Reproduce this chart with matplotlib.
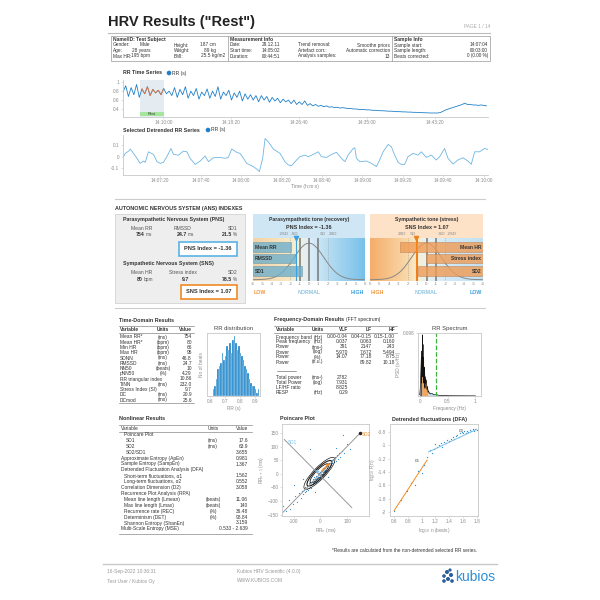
import numpy as np
import matplotlib
matplotlib.use("Agg")
import matplotlib.pyplot as plt
from matplotlib.patches import Rectangle, Ellipse, Circle
from matplotlib.colors import LinearSegmentedColormap

plt.rcParams['font.family'] = ['Liberation Sans', 'DejaVu Sans']

# ---------------- data ----------------
# RR time series, one value every 20 s from 14:05:02
rr_step = 20
rr_values = [0.78, 0.92, 0.68, 0.88, 0.72, 0.95, 0.66, 0.85, 0.74, 0.90,
             0.70, 0.84, 0.76, 0.82, 0.72, 0.86, 0.74, 0.80, 0.70, 0.88,
             0.66, 0.84, 0.72, 0.90, 0.64, 0.80, 0.70, 0.86, 0.62, 0.78,
             0.70, 0.85, 0.64, 0.80, 0.68, 0.90, 0.62, 0.78, 0.70, 0.82,
             0.60, 0.76, 0.66, 0.80, 0.58, 0.74, 0.62, 0.72, 0.60, 0.70,
             0.56, 0.70, 0.60, 0.68, 0.55, 0.66, 0.58, 0.64, 0.54, 0.62,
             0.56, 0.60, 0.52, 0.60, 0.50, 0.56, 0.50, 0.58, 0.48, 0.52,
             0.47, 0.50, 0.46, 0.48, 0.45, 0.47, 0.44, 0.45, 0.43, 0.44,
             0.42, 0.43, 0.42, 0.41, 0.41, 0.40, 0.40, 0.39, 0.39, 0.385,
             0.38, 0.38, 0.37, 0.37, 0.365, 0.36, 0.36, 0.355, 0.35, 0.35,
             0.345, 0.34, 0.34, 0.335, 0.335, 0.33, 0.33, 0.325, 0.325, 0.32,
             0.32, 0.315, 0.315, 0.31, 0.31, 0.31, 0.31, 0.32, 0.35, 0.38,
             0.40, 0.42, 0.44, 0.46, 0.48, 0.50, 0.53, 0.50, 0.50, 0.49,
             0.49, 0.48, 0.49, 0.48, 0.47]
rr_ticks = [298, 798, 1298, 1798, 2298]
rr_ticklabels = ["14:10:00", "14:18:20", "14:26:40", "14:35:00", "14:43:20"]
sel_start, sel_end = 124, 304

# detrended selection (s from 14:07:04, s)
det_t = [-2.1, -1.3, 0.4, 1.2, 2.8, 4.5, 6.1, 7.8, 8.6, 10.2, 12.7, 14.4, 16.0, 17.6, 19.3,
         21.3, 22.6, 25.1, 27.5, 29.2, 30.8, 33.3, 35.8, 38.2, 39.9, 42.3, 45.6, 48.1, 49.7,
         51.4, 53.9, 55.5, 57.2, 58.8, 62.1, 63.7, 65.1, 66.7, 67.9, 69.5, 72.0, 75.3, 77.7,
         79.4, 81.0, 83.5, 85.1, 87.6, 89.3, 91.7, 94.2, 95.8, 98.3, 100.8, 103.2, 105.7,
         107.4, 109.0, 111.5, 112.3, 113.1, 114.8, 118.1, 120.5, 123.0, 124.6, 126.3, 128.8,
         130.4, 132.0, 133.7, 135.3, 137.0, 138.6, 141.1, 143.6, 145.2, 147.7, 150.2, 152.6,
         154.3, 156.7, 158.4, 160.9, 163.3, 165.8, 168.3, 169.9, 171.6, 174.0, 176.5, 178.1]
det_rr = [0.0, 0.029, 0.049, 0.067, 0.029, -0.014, -0.058, -0.038, -0.049, 0.043, 0.020,
          -0.043, -0.058, -0.049, 0.0, 0.072, 0.020, 0.014, 0.049, 0.043, -0.014, -0.067,
          -0.038, 0.006, -0.043, -0.009, -0.006, -0.014, -0.006, 0.067, 0.038, 0.029, -0.014,
          -0.058, -0.087, -0.107, -0.130, -0.014, 0.159, 0.130, 0.067, 0.029, -0.043, -0.072,
          -0.078, -0.029, 0.0, 0.014, 0.0, 0.020, 0.043, 0.0, -0.006, 0.020, 0.038, -0.014,
          -0.043, 0.014, 0.072, 0.078, -0.014, -0.043, -0.038, -0.058, -0.087, -0.029, 0.043,
          0.107, 0.087, 0.014, -0.049, -0.067, -0.067, 0.0, 0.029, 0.014, 0.043, -0.006,
          0.014, -0.029, 0.0, 0.072, -0.014, -0.064, -0.029, -0.009, -0.038, -0.067, 0.043,
          0.043, 0.072, 0.064]
det_ticks = [16, 36, 56, 76, 96, 116, 136, 156, 176]
det_ticklabels = ["14:07:20", "14:07:40", "14:08:00", "14:08:20", "14:08:40",
                  "14:09:00", "14:09:20", "14:09:40", "14:10:00"]

# ANS gauges
pns_bar_names = ["Mean RR", "RMSSD", "SD1"]
pns_bar_vals = [-1.9, -1.55, -0.8]
pns_index = -1.36
sns_bar_names = ["Mean HR", "Stress index", "SD2"]
sns_bar_vals = [2.8, 0.05, 0.9]
sns_index = 1.07

# header info
info_name = [("Gender:", "Male", "Height:", "187 cm"),
             ("Age:", "28 years", "Weight:", "89 kg"),
             ("Max HR:", "195 bpm", "BMI:", "25.5 kg/m2")]
info_meas = [("Date:", "29.12.11", "Trend removal:", "Smoothn priors"),
             ("Start time:", "14:05:02", "Artefact corr.:", "Automatic correction"),
             ("Duration:", "00:44:51", "Analysis samples:", "13")]
info_sample = [("Sample start:", "14:07:04"),
               ("Sample length:", "00:03:00"),
               ("Beats corrected:", "0 (0.00 %)")]

# time domain table
td_vars = ["Mean RR*", "Mean HR*", "Min HR", "Max HR", "SDNN", "RMSSD", "NN50", "pNN50",
           "RR triangular index", "TINN", "Stress Index (SI)", "DC", "DCmod"]
td_units = ["(ms)", "(bpm)", "(bpm)", "(bpm)", "(ms)", "(ms)", "(beats)", "(%)", "",
            "(ms)", "", "(ms)", "(ms)"]
td_vals = ["754", "80", "66", "95", "46.8", "24.7", "10", "4.29", "10.86", "232.0",
           "9.7", "20.9", "25.6"]

# RR distribution histogram
hist_left = [0.62, 0.63, 0.64, 0.65, 0.66, 0.67, 0.68, 0.69, 0.70, 0.71, 0.72, 0.73, 0.74,
             0.75, 0.76, 0.77, 0.78, 0.79, 0.80, 0.81, 0.82, 0.83, 0.84, 0.85, 0.86, 0.87,
             0.88, 0.89, 0.90, 0.91, 0.92]
hist_counts = [2, 3, 5, 8, 9, 10, 13, 11, 12, 15, 14, 16, 13, 17, 18, 16, 14, 15, 13, 12,
               11, 9, 8, 7, 5, 4, 3, 3, 2, 1, 2]

# frequency domain table
fd_rows = [("Frequency band", "(Hz)", "0.00-0.04", "0.04-0.15", "0.15-1.00"),
           ("Peak frequency", "(Hz)", "0.037", "0.063", "0.160"),
           ("Power", "(ms²)", "391", "2147", "243"),
           ("Power", "(log)", "5.970", "7.672", "5.494"),
           ("Power", "(%)", "14.07", "77.18", "8.75"),
           ("Power", "(n.u.)", "", "89.82", "10.18")]
fd_totals = [("Total power", "(ms²)", "2782"),
             ("Total Power", "(log)", "7.931"),
             ("LF/HF ratio", "", "8.825"),
             ("RESP", "(Hz)", "0.29")]

# RR spectrum
spec_f = [0, 0.01, 0.02, 0.03, 0.035, 0.04, 0.045, 0.05, 0.055, 0.06, 0.065, 0.07, 0.075,
          0.08, 0.085, 0.09, 0.095, 0.10, 0.11, 0.12, 0.13, 0.14, 0.15, 0.16, 0.17, 0.18,
          0.20, 0.22, 0.25, 0.30, 0.35, 0.40, 0.50, 0.60, 0.80, 1.00]
spec_psd = [0.002, 0.010, 0.035, 0.060, 0.020, 0.070, 0.030, 0.095, 0.040, 0.080, 0.025,
            0.060, 0.020, 0.045, 0.015, 0.035, 0.012, 0.030, 0.020, 0.025, 0.010, 0.015,
            0.006, 0.008, 0.004, 0.005, 0.003, 0.004, 0.002, 0.002, 0.001, 0.001, 0.0005,
            0.0004, 0.0003, 0.0002]
resp_freq = 0.29

# nonlinear table
nl_vars = ["Poincare Plot", "SD1", "SD2", "SD2/SD1", "Approximate Entropy (ApEn)",
           "Sample Entropy (SampEn)", "Detrended Fluctuation Analysis (DFA)",
           "Short-term fluctuations, α1", "Long-term fluctuations, α2",
           "Correlation Dimension (D2)", "Recurrence Plot Analysis (RPA)",
           "Mean line length (Lmean)", "Max line length (Lmax)", "Recurrence rate (REC)",
           "Determinism (DET)", "Shannon Entropy (ShanEn)", "Multi-Scale Entropy (MSE)"]
nl_indent = [1, 2, 2, 2, 0, 0, 0, 1, 1, 0, 0, 1, 1, 1, 1, 1, 0]
nl_units = ["", "(ms)", "(ms)", "", "", "", "", "", "", "", "", "(beats)", "(beats)",
            "(%)", "(%)", "", ""]
nl_vals = ["", "17.6", "63.9", "3.655", "0.981", "1.367", "", "1.562", "0.552", "3.058",
           "", "11.06", "140", "36.48", "98.84", "3.159", "0.533 - 2.639"]

# Poincare points (ms)
pc_x = [-130, -120, -105, -95, -88, -80, -75, -70, -66, -62, -60, -58, -55, -52, -50, -48,
        -45, -44, -42, -40, -38, -36, -35, -33, -30, -30, -28, -25, -24, -22, -20, -18, -16,
        -15, -12, -10, -10, -8, -6, -5, -3, 0, 0, 2, 4, 5, 8, 10, 10, 12, 15, 16, 18, 20, 22,
        25, 26, 28, 30, 32, 35, 38, 40, 42, 45, 48, 50, 55, 58, 62, 65, 70, 75, 80, 90, 100,
        -39, 84, -65, -20, 30, -100, 60, 110, -140, -115]
pc_y = [-138, -95, -112, -80, -102, -70, -88, -62, -75, -58, -68, -50, -62, -45, -56, -60,
        -40, -52, -35, -47, -30, -42, -52, -25, -38, -20, -32, -30, -12, -28, -18, -30, -8,
        -20, -14, -2, -22, -10, 4, -12, -5, 8, -10, -2, 12, 0, 6, 20, -2, 10, 22, 5, 15, 28,
        12, 20, 35, 18, 30, 40, 25, 45, 32, 50, 38, 55, 42, 60, 48, 70, 55, 78, 62, 85, 75,
        110, 90, 142, -20, -65, -10, -40, 95, 90, -120, -130]
pc_center = (-4, 2)
sd1, sd2 = 17.6, 63.9

# DFA points
dfa_x = [0.60, 0.70, 0.78, 0.85, 0.90, 0.95, 1.00, 1.04, 1.08, 1.12, 1.15, 1.18, 1.20,
         1.23, 1.25, 1.28, 1.30, 1.32, 1.35, 1.37, 1.40, 1.42, 1.45, 1.47, 1.50, 1.52, 1.54,
         1.56, 1.58, 1.60, 1.62, 1.64, 1.66, 1.68, 1.70, 1.72, 1.74, 1.76, 1.78, 1.80]
dfa_y = [-1.98, -1.82, -1.68, -1.57, -1.60, -1.38, -1.42, -1.30, -1.18, -1.07, -1.12,
         -1.05, -0.98, -1.02, -1.00, -0.96, -1.03, -0.95, -0.97, -0.92, -0.94, -0.90, -0.88,
         -0.90, -0.86, -0.84, -0.87, -0.82, -0.80, -0.82, -0.79, -0.81, -0.78, -0.80, -0.77,
         -0.79, -0.76, -0.78, -0.75, -0.77]
dfa_fit1_x, dfa_fit1_y = [0.60, 1.08], [-1.98, -1.22]
dfa_fit2_x, dfa_fit2_y = [1.10, 1.80], [-1.10, -0.76]

# ---------------- page helpers ----------------
W = 600.0
fig = plt.figure(figsize=(6, 6), dpi=100)
fig.patch.set_facecolor('white')
GRAY = '#8c8c8c'
BLUE = '#1f80c8'


def fx(x):
    return x / W


def fy(y):
    return 1 - y / W


def txt(x, y, s, size=3.6, color='#333333', **kw):
    fig.text(fx(x), fy(y), s, fontsize=size, color=color, va='center', **kw)


def hline(x0, x1, y, color='#b0b0b0', lw=0.5):
    fig.add_artist(plt.Line2D([fx(x0), fx(x1)], [fy(y), fy(y)], color=color, lw=lw))


def vline(x, y0, y1, color='#b0b0b0', lw=0.5):
    fig.add_artist(plt.Line2D([fx(x), fx(x)], [fy(y0), fy(y1)], color=color, lw=lw))


def rect(x0, y0, x1, y1, **kw):
    fig.add_artist(Rectangle((fx(x0), fy(y1)), (x1 - x0) / W, (y1 - y0) / W,
                             transform=fig.transFigure, **kw))


def box_axes(x0, y0, x1, y1):
    a = fig.add_axes([fx(x0), fy(y1), (x1 - x0) / W, (y1 - y0) / W])
    a.patch.set_alpha(0)
    return a


def style(ax, size=3.4, frame='lb'):
    for k, s in ax.spines.items():
        s.set_color('#c8c8c8')
        s.set_linewidth(0.6)
        if frame == 'lb' and k in ('top', 'right'):
            s.set_visible(False)
    ax.tick_params(labelsize=size, colors='#c8c8c8', labelcolor=GRAY, length=1.5,
                   width=0.4, pad=1)


# ---------------- title + header ----------------
txt(108, 22, 'HRV Results ("Rest")', size=10.5, weight='bold', color='#222222')
txt(490, 27, "PAGE 1 / 14", size=3.4, color='#aaaaaa', ha='right')
hline(108, 490, 32.5, color='#bbbbbb', lw=0.8)

rect(111, 35.5, 490, 61, facecolor='none', edgecolor='#999999', lw=0.5)
vline(228, 35.5, 61, color='#999999')
vline(392, 35.5, 61, color='#999999')
row_y = [45, 50.5, 56]
txt(113, 39.5, "Name/ID: Test Subject", size=3.6, weight='bold')
txt(230, 39.5, "Measurement Info", size=3.6, weight='bold')
txt(394, 39.5, "Sample Info", size=3.6, weight='bold')
for y, (a, b, c, d) in zip(row_y, info_name):
    txt(113, y, a, size=3.4)
    txt(150, y, b, size=3.4, ha='right')
    txt(174, y, c, size=3.4)
    txt(225 if d.endswith('m2') else 216, y, d, size=3.4, ha='right')
for y, (a, b, c, d) in zip(row_y, info_meas):
    txt(230, y, a, size=3.4)
    txt(280, y, b, size=3.4, ha='right')
    txt(298, y, c, size=3.4)
    txt(390, y, d, size=3.4, ha='right')
for y, (a, b) in zip(row_y, info_sample):
    txt(394, y, a, size=3.4)
    txt(488, y, b, size=3.4, ha='right')

# ---------------- RR time series ----------------
txt(123, 73, "RR Time Series", size=3.8, weight='bold')
fig.add_artist(Circle((fx(169), fy(73)), 1.6 / W, color=BLUE, transform=fig.transFigure))
txt(172, 73, "RR (s)", size=3.6)
ax = box_axes(123, 80, 488, 117)
rr_t = np.arange(len(rr_values)) * rr_step
ax.axvspan(sel_start, sel_end, color='#e4ecf2', lw=0, zorder=0)
ax.add_patch(Rectangle((sel_start, 0.235), sel_end - sel_start, 0.09, color='#a6e59e', lw=0))
ax.text((sel_start + sel_end) / 2, 0.28, "Rest", fontsize=2.8, ha='center', va='center',
        color='#333333')
ax.plot(rr_t, rr_values, color=BLUE, lw=0.6)
sel = (rr_t >= sel_start) & (rr_t <= sel_end)
ax.plot(rr_t[sel], np.array(rr_values)[sel], color='#e8743b', lw=0.6)
ax.set_xlim(0, 2691)
ax.set_ylim(0.22, 1.05)
ax.set_xticks(rr_ticks, rr_ticklabels)
ax.set_yticks([0.4, 0.6, 0.8, 1.0], ["0.4", "0.6", "0.8", "1"])
style(ax)

# ---------------- detrended selection ----------------
txt(123, 130, "Selected Detrended RR Series", size=3.8, weight='bold')
fig.add_artist(Circle((fx(208), fy(130)), 1.6 / W, color=BLUE, transform=fig.transFigure))
txt(211, 130, "RR (s)", size=3.6)
ax = box_axes(123, 135, 488, 175)
ax.plot(det_t, det_rr, color='#6db5e3', lw=0.6)
ax.set_xlim(-2.4, 178.2)
ax.set_ylim(-0.16, 0.19)
ax.set_xticks(det_ticks, det_ticklabels)
ax.set_yticks([-0.1, 0, 0.1], ["-0.1", "0", "0.1"])
style(ax)
txt(305, 186, "Time (h:m:s)", size=3.6, color=GRAY, ha='center')

# ---------------- ANS ----------------
hline(115, 485, 199, color='#cccccc', lw=0.8)
txt(115, 208.5, "AUTONOMIC NERVOUS SYSTEM (ANS) INDEXES", size=3.9, weight='bold')
rect(115, 214, 245, 303, facecolor='#eeeeee', edgecolor='#cccccc', lw=0.5, zorder=-1)

txt(123, 220, "Parasympathetic Nervous System (PNS)", size=3.8, weight='bold')
for x, s, ha in [(142, "Mean RR", 'center'), (183, "RMSSD", 'center'), (237, "SD1", 'right')]:
    txt(x, 228.5, s, size=3.6, color='#555555', ha=ha)
for x, num, unit in [(145, "754", "ms"), (187, "24.7", "ms"), (232, "21.5", "%")]:
    txt(x, 234.5, num, size=3.8, weight='bold', ha='right')
    txt(x + 1, 234.5, unit, size=3.4, color='#555555')
rect(179, 242, 237, 256, facecolor='white', edgecolor='#5ab4e5', lw=1.2)
txt(208, 249, "PNS Index = -1.36", size=4.1, weight='bold', ha='center')

txt(123, 264, "Sympathetic Nervous System (SNS)", size=3.8, weight='bold')
for x, s, ha in [(142, "Mean HR", 'center'), (183, "Stress index", 'center'), (237, "SD2", 'right')]:
    txt(x, 272, s, size=3.6, color='#555555', ha=ha)
txt(143, 279, "80", size=3.8, weight='bold', ha='right')
txt(144, 279, "bpm", size=3.4, color='#555555')
txt(186, 279, "9.7", size=3.8, weight='bold', ha='center')
txt(232, 279, "78.5", size=3.8, weight='bold', ha='right')
txt(233, 279, "%", size=3.4, color='#555555')
rect(181, 284.5, 237, 298.5, facecolor='white', edgecolor='#f08a24', lw=1.2)
txt(209, 291.5, "SNS Index = 1.07", size=4.1, weight='bold', ha='center')

gauges = [
    dict(x0=253, x1=365, bg='#cfe6f4', rev=False,
         stops=[(-6, '#f5d2a6'), (-2.2, '#f8e8c4'), (-1.2, '#f4f0d8'), (0, '#dfeef8'),
                (2, '#b8ddf2'), (6, '#78c1ea')],
         names=pns_bar_names, vals=pns_bar_vals, bar='#6fb0cc', edge='#5d8fa3',
         index=pns_index, mcol='#3d9fdc',
         t1="Parasympathetic tone (recovery)", t2="PNS Index = -1.36",
         words=[("LOW", '#f0963c', 'left'), ("NORMAL", '#8fc4e0', 'center'),
                ("HIGH", '#3a9edb', 'right')]),
    dict(x0=370, x1=483, bg='#fde2c8', rev=True,
         stops=[(-6, '#c0e1f4'), (-2, '#d3eaf6'), (0, '#e8f1f2'), (1, '#f8edcc'),
                (2, '#fad9aa'), (6, '#f4ad6a')],
         names=sns_bar_names, vals=sns_bar_vals, bar='#f09c55', edge='#b7794a',
         index=sns_index, mcol='#f0821e',
         t1="Sympathetic tone (stress)", t2="SNS Index = 1.07",
         words=[("HIGH", '#f0963c', 'left'), ("NORMAL", '#8fc4e0', 'center'),
                ("LOW", '#3a9edb', 'right')]),
]
bar_rows = [(0.79, 0.23), (0.52, 0.21), (0.23, 0.23)]
sd_labels = [("-2SD", -2), ("-SD", -1), ("SD", 1), ("2SD", 2)]
for g in gauges:
    x0, x1 = g['x0'], g['x1']
    rev = g['rev']
    rect(x0, 214, x1, 281, facecolor=g['bg'], edgecolor='none', zorder=-1)
    xc = (x0 + x1) / 2
    txt(xc, 219.5, g['t1'], size=3.7, weight='bold', ha='center')
    txt(xc, 227, g['t2'], size=3.9, weight='bold', ha='center')
    ax = box_axes(x0, 238, x1, 281)
    cmap = LinearSegmentedColormap.from_list(
        'g', [((v + 6) / 12, c) for v, c in g['stops']])
    grad = np.linspace(0, 1, 256).reshape(1, -1)
    ax.imshow(grad, extent=[-6, 6, 0, 1], aspect='auto', cmap=cmap, zorder=0)
    xs = np.linspace(-6, 6, 200)
    ax.plot(xs, 0.03 + 0.85 * np.exp(-xs ** 2 / (2 * 1.6 ** 2)), color='#888888', lw=0.7, zorder=2)
    for v in (-1, 0, 1):
        ax.axvline(v, color='#777777', lw=1.1, zorder=2)
    for v in (-2, 2):
        ax.axvline(v, color='#999999', lw=0.5, ls=':', zorder=2)
    # bars start at -6 (left edge for PNS, right edge for the reversed SNS axis)
    for (yc, h), name, val in zip(bar_rows, g['names'], g['vals']):
        ax.barh(yc, val + 6, left=-6, height=h, color=g['bar'], alpha=0.8,
                edgecolor=g['edge'], lw=0.4, zorder=3)
        ax.text(-5.8, yc, name, fontsize=3.6, weight='bold', color='#333333',
                va='center', ha='right' if rev else 'left', zorder=4)
    ax.axvline(g['index'], color=g['mcol'], lw=0.8, zorder=4)
    ax.plot([g['index']], [1.0], marker='v', color=g['mcol'], ms=3, zorder=5, clip_on=False)
    ax.set_ylim(0, 1)
    ax.set_xlim((6, -6) if rev else (-6, 6))
    ax.set_xticks(range(-6, 7), [str(v) for v in range(-6, 7)])
    ax.set_yticks([])
    for s in ax.spines.values():
        s.set_visible(False)
    ax.tick_params(labelsize=3.2, labelcolor=GRAY, length=0, pad=1)
    for lab, v in sd_labels:
        ha = 'right' if (v < 0) != rev else 'left'
        ax.text(v + np.sign(v) * 0.15, 1.04, lab, fontsize=3.2, color='#888888',
                ha=ha, va='bottom')
    for (w, c, ha), x in zip(g['words'], [x0 + 1, xc, x1 - 1]):
        txt(x, 292.5, w, size=3.8, weight='bold', color=c, ha=ha)

# ---------------- time domain ----------------
hline(115, 485, 308, color='#cccccc', lw=0.8)
txt(119, 320, "Time-Domain Results", size=3.9, weight='bold')
hline(119, 194, 326, color='#888888')
hline(119, 194, 332.5, color='#888888')
hline(119, 194, 403, color='#888888')
txt(120, 329.3, "Variable", size=3.5, weight='bold')
txt(163, 329.3, "Units", size=3.5, weight='bold', ha='center')
txt(192, 329.3, "Value", size=3.5, weight='bold', ha='right')
for i, (v, u, val) in enumerate(zip(td_vars, td_units, td_vals)):
    y = 337 + i * 5.25
    txt(120, y, v, size=3.5)
    txt(163, y, u, size=3.5, ha='center')
    txt(192, y, val, size=3.5, ha='right')

ax = box_axes(207, 333, 260, 396)
ax.bar(hist_left, hist_counts, width=0.01, align='edge', color='#1a84c9',
       edgecolor='white', lw=0.2)
ax.set_xlim(0.58, 0.935)
ax.set_ylim(0, 19)
ax.set_xticks([0.6, 0.7, 0.8, 0.9], ["0.6", "0.7", "0.8", "0.9"])
ax.set_yticks([])
style(ax, frame='all')
ax.set_title("RR distribution", fontsize=4.2, color='#444444', pad=2)
ax.set_ylabel("No of beats", fontsize=3.4, color=GRAY, labelpad=2)
ax.set_xlabel("RR (s)", fontsize=3.4, color=GRAY, labelpad=1)

# ---------------- frequency domain ----------------
txt(274, 320, "Frequency-Domain Results", size=3.9, weight='bold')
txt(346, 319.5, "(FFT spectrum)", size=3.6)
hline(274, 397, 326, color='#888888')
hline(274, 397, 332.5, color='#888888')
txt(276, 329.3, "Variable", size=3.5, weight='bold')
txt(318, 329.3, "Units", size=3.5, weight='bold', ha='center')
for x, s in [(348, "VLF"), (372, "LF"), (395, "HF")]:
    txt(x, 329.3, s, size=3.5, weight='bold', ha='right')
for i, (v, u, a, b, c) in enumerate(fd_rows):
    y = 337 + i * 5
    txt(276, y, v, size=3.5)
    txt(318, y, u, size=3.5, ha='center')
    txt(348, y, a, size=3.5, ha='right')
    txt(372, y, b, size=3.5, ha='right')
    txt(395, y, c, size=3.5, ha='right')
hline(277, 296, 371, color='#555555', lw=0.4)
for i, (v, u, a) in enumerate(fd_totals):
    y = 377.5 + i * 5
    txt(276, y, v, size=3.5)
    txt(318, y, u, size=3.5, ha='center')
    txt(348, y, a, size=3.5, ha='right')

ax = box_axes(418, 333, 481, 396)
f = np.array(spec_f)
p = np.array(spec_psd)
ax.fill_between(f, p, where=f <= 0.04, color='#5a5a5a', lw=0, interpolate=True)
ax.fill_between(f, p, where=(f >= 0.04) & (f <= 0.15), color='#f2a65a', lw=0, interpolate=True)
ax.fill_between(f, p, where=f >= 0.15, color='#bcdcf0', lw=0, interpolate=True)
ax.plot(f, p, color='#111111', lw=0.5)
ax.axvline(resp_freq, color='#3cb43c', ls='--', lw=0.9)
ax.set_xlim(-0.03, 1.1)
ax.set_ylim(0, 0.098)
ax.set_xticks([0, 0.5, 1], ["0", "0.5", "1"])
ax.set_yticks([0.098], ["0.098"])
style(ax, frame='all')
ax.set_title("RR Spectrum", fontsize=4.2, color='#444444', pad=2)
ax.set_ylabel("PSD (s²/Hz)", fontsize=3.4, color=GRAY, labelpad=1)
ax.set_xlabel("Frequency (Hz)", fontsize=3.4, color=GRAY, labelpad=1)

# ---------------- nonlinear ----------------
txt(119, 419, "Nonlinear Results", size=3.9, weight='bold')
hline(119, 252, 424.5, color='#888888')
hline(119, 252, 432, color='#888888')
hline(119, 252, 534, color='#888888')
txt(121, 428.3, "Variable", size=3.5)
txt(213, 428.3, "Units", size=3.5, ha='center')
txt(248, 428.3, "Value", size=3.5, ha='right')
for i, (v, ind, u, val) in enumerate(zip(nl_vars, nl_indent, nl_units, nl_vals)):
    y = 434.5 + i * 5.9
    txt(121 + 2.5 * ind, y, v, size=3.5)
    txt(213, y, u, size=3.5, ha='center')
    txt(248, y, val, size=3.5, ha='right')

# Poincare
txt(280, 419, "Poincare Plot", size=3.9, weight='bold')
ax = box_axes(282, 424, 369, 516)
ax.plot([-150, 150], [-150, 150], color='#999999', lw=0.7)
ax.plot([-136, 118], [126, -124], color='#999999', lw=0.7)
ax.scatter(pc_x, pc_y, s=0.8, color='#2f8fd0', lw=0)
for k, lw in [(1.0, 0.8), (0.75, 0.6), (1.25, 0.5)]:
    ax.add_patch(Ellipse(pc_center, 2 * sd2 * k, 2 * sd1 * k, angle=45, fill=False,
                         color='#1a1a1a', lw=lw))
d2 = sd2 / np.sqrt(2)
d1 = sd1 / np.sqrt(2)
ax.annotate("", xy=(pc_center[0] + d2, pc_center[1] + d2), xytext=pc_center,
            arrowprops=dict(arrowstyle='-|>', color='#f08a24', lw=0.9, mutation_scale=3))
ax.annotate("", xy=(pc_center[0] - d1, pc_center[1] + d1), xytext=pc_center,
            arrowprops=dict(arrowstyle='-|>', color='#7cc0e8', lw=0.9, mutation_scale=3))
ax.plot([150], [150], 'o', color='#222222', ms=1.5)
ax.text(155, 145, "SD2", fontsize=3.4, color='#f08a24', va='center')
ax.text(-122, 115, "SD1", fontsize=3.4, color='#7cc0e8', va='center')
ax.set_xlim(-145, 183)
ax.set_ylim(-155, 183)
ax.set_xticks([-100, 0, 100], ["-100", "0", "100"])
ax.set_yticks([-150, -100, -50, 0, 50, 100, 150])
style(ax, frame='all')
ax.set_xlabel("RR$_n$ (ms)", fontsize=3.4, color=GRAY, labelpad=1)
ax.set_ylabel("RR$_{n+1}$ (ms)", fontsize=3.4, color=GRAY, labelpad=1)

# DFA
txt(392, 419, "Detrended fluctuations (DFA)", size=3.9, weight='bold')
ax = box_axes(390, 424, 478, 516)
ax.scatter(dfa_x, dfa_y, s=0.9, color='#2f8fd0', lw=0)
ax.plot(dfa_fit1_x, dfa_fit1_y, color='#f08a24', lw=0.7)
ax.plot(dfa_fit2_x, dfa_fit2_y, color='#7cc0e8', lw=0.7)
ax.text(0.93, -1.25, "α$_1$", fontsize=3.4, color='#555555', ha='center')
ax.text(1.58, -0.80, "α$_2$", fontsize=3.4, color='#555555', ha='center')
ax.set_xlim(0.54, 1.82)
ax.set_ylim(-2.06, -0.68)
ax.set_xticks([0.6, 0.8, 1.0, 1.2, 1.4, 1.6, 1.8], ["0.6", "0.8", "1", "1.2", "1.4", "1.6", "1.8"])
ax.set_yticks([-2, -1.8, -1.6, -1.4, -1.2, -1, -0.8],
              ["-2", "-1.8", "-1.6", "-1.4", "-1.2", "-1", "-0.8"])
style(ax, frame='all')
ax.set_xlabel("log$_{10}$ n (beats)", fontsize=3.4, color=GRAY, labelpad=1)
ax.set_ylabel("log$_{10}$ F(n)", fontsize=3.4, color=GRAY, labelpad=1)

txt(477, 551, "*Results are calculated from the non-detrended selected RR series.",
    size=3.4, ha='right')

# ---------------- footer ----------------
hline(103, 497, 564, color='#c8c8c8', lw=1.0)
txt(107, 572, "16-Sep-2022 10:36:31", size=3.5, color='#999999')
txt(107, 581, "Test User / Kubios Oy", size=3.5, color='#999999')
txt(237, 572, "Kubios HRV Scientific (4.0.0)", size=3.5, color='#999999')
txt(237, 581, "WWW.KUBIOS.COM", size=3.5, color='#999999')
txt(455, 577, "kubios", size=10, color='#2a8fd6')
for dx, dy, r in [(447, 572, 1.3), (451, 575, 1.3), (444, 576, 1.1), (448, 579, 1.3),
                  (452, 581, 1.1), (444, 581, 1.1), (450, 570, 0.9)]:
    fig.add_artist(Circle((fx(dx), fy(dy)), r / W, color='#2a5d9a', transform=fig.transFigure))

fig.savefig("out.png", dpi=100)
